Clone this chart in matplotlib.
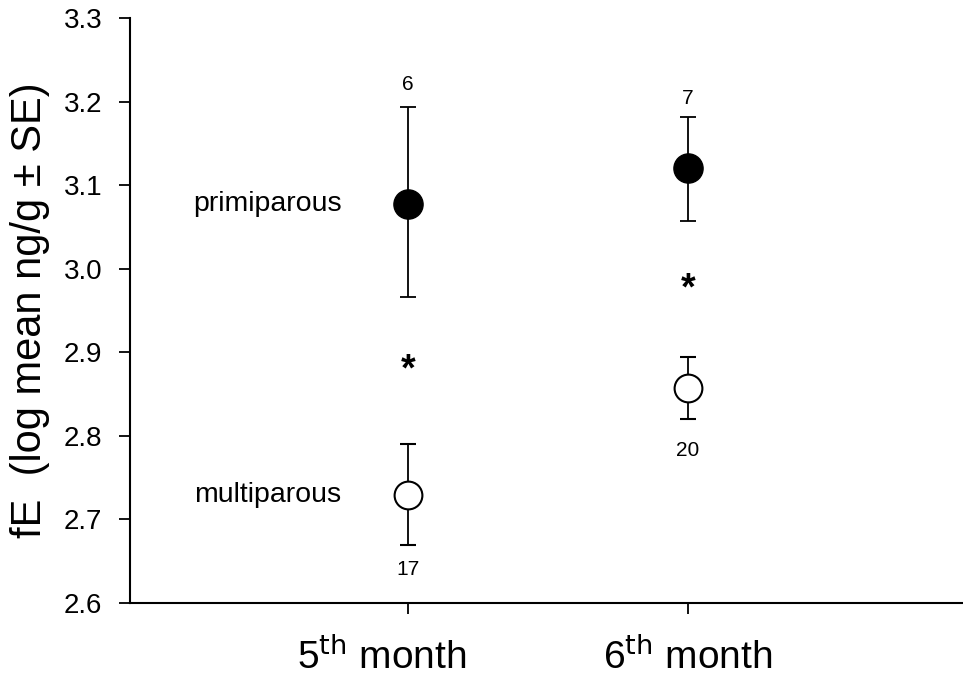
import matplotlib
matplotlib.use("Agg")
import matplotlib.pyplot as plt

plt.rcParams['font.family'] = ['Liberation Sans', 'DejaVu Sans']

# data
months = ["5$^{\\mathrm{th}}$ month", "6$^{\\mathrm{th}}$ month"]
x_pos = [1, 2]
prim_mean = [3.078, 3.120]
prim_lo = [2.966, 3.057]
prim_hi = [3.194, 3.182]
multi_mean = [2.729, 2.857]
multi_lo = [2.669, 2.820]
multi_hi = [2.790, 2.894]
prim_n = ["6", "7"]
prim_n_y = [3.220, 3.204]
multi_n = ["17", "20"]
multi_n_y = [2.640, 2.783]
star_y = [2.878, 2.975]

fig = plt.figure(figsize=(9.63, 6.8), dpi=100)
ax = fig.add_axes([130 / 963, 77 / 680, 838 / 963, 585 / 680])

def errs(mean, lo, hi):
    return [[m - l for m, l in zip(mean, lo)], [h - m for m, h in zip(mean, hi)]]

ax.errorbar(x_pos, prim_mean, yerr=errs(prim_mean, prim_lo, prim_hi), fmt='o',
            color='black', mfc='black', mec='black', ms=21, capsize=6,
            elinewidth=1.3, capthick=1.3, zorder=3)
ax.errorbar(x_pos, multi_mean, yerr=errs(multi_mean, multi_lo, multi_hi), fmt='o',
            color='black', mfc='white', mec='black', mew=1.5, ms=20, capsize=6,
            elinewidth=1.3, capthick=1.3, zorder=3)

# sample sizes
for x, y, n in zip(x_pos, prim_n_y, prim_n):
    ax.text(x, y, n, ha='center', va='center', fontsize=15)
for x, y, n in zip(x_pos, multi_n_y, multi_n):
    ax.text(x, y, n, ha='center', va='center', fontsize=15)
for x, s in zip(x_pos, star_y):
    ax.text(x, s, "*", ha='center', va='center', fontsize=27, fontweight='bold')

ax.text(0.5, prim_mean[0], "primiparous", ha='center', va='center', fontsize=20.5)
ax.text(0.5, multi_mean[0], "multiparous", ha='center', va='center', fontsize=20.5)

ax.set_xlim(1 - 278 / 280, 2 + 280 / 280)
ax.set_ylim(2.6, 3.3)
ax.set_yticks([2.6, 2.7, 2.8, 2.9, 3.0, 3.1, 3.2, 3.3])
ax.set_yticklabels(["2.6", "2.7", "2.8", "2.9", "3.0", "3.1", "3.2", "3.3"])
ax.set_xticks(x_pos)
ax.set_xticklabels([])
ax.tick_params(axis='y', labelsize=20, length=8, width=1.3, pad=12)
ax.tick_params(axis='x', length=8, width=1.3)
ax.set_ylabel("fE  (log mean ng/g \u00b1 SE)", fontsize=30, labelpad=10)

# month labels, placed by hand under the ticks as in the original
label_x = [0.905, 2.0]
for x, lab in zip(label_x, months):
    ax.text(x, -0.112, lab, transform=ax.get_xaxis_transform(),
            ha='center', va='baseline', fontsize=28)

for side in ['top', 'right']:
    ax.spines[side].set_visible(False)
for side in ['left', 'bottom']:
    ax.spines[side].set_linewidth(1.5)

fig.savefig("out.png", dpi=100)
